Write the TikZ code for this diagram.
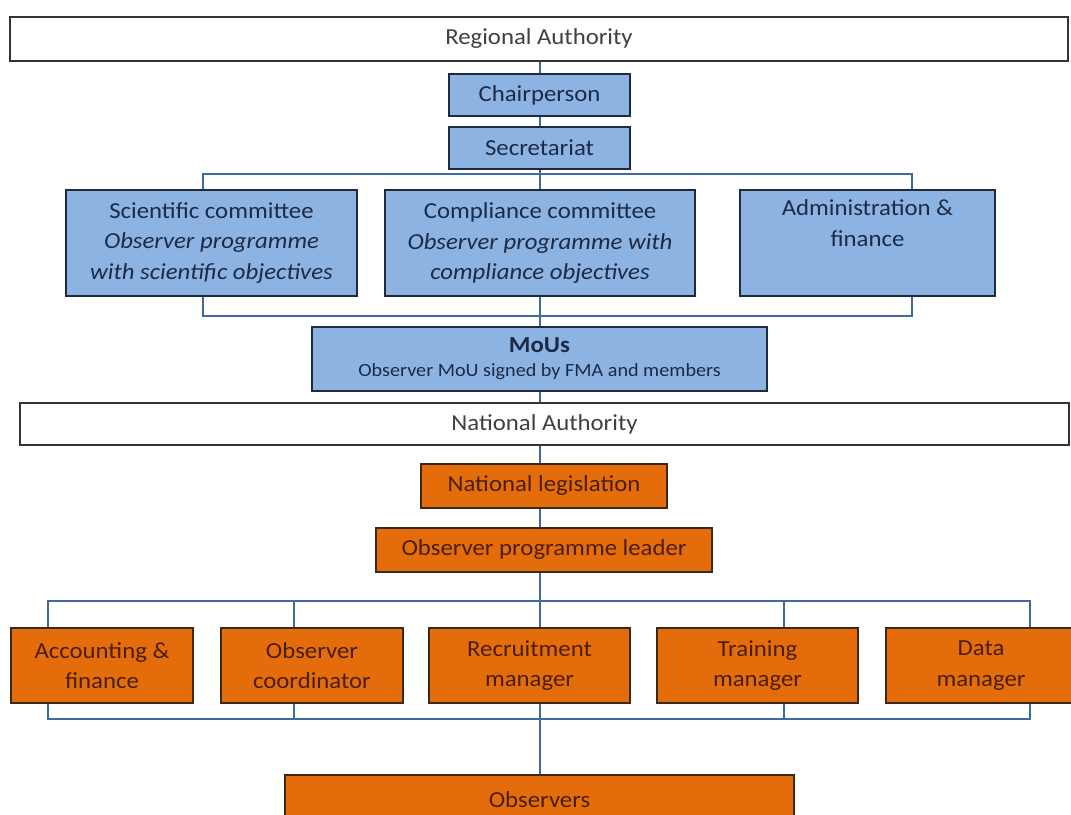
\documentclass[tikz,border=0pt]{standalone}
\usepackage{fontspec}
\setmainfont{Carlito}[FakeStretch=1.08]
\definecolor{boxblue}{HTML}{8DB3E2}
\definecolor{boxorange}{HTML}{E46C0A}
\definecolor{inkblue}{HTML}{1B2A47}
\definecolor{inkbrown}{HTML}{4A1E00}
\definecolor{edgeblue}{HTML}{1F2A3C}
\definecolor{edgebrown}{HTML}{3D2814}
\definecolor{linkblue}{HTML}{3F6A9E}
\tikzset{
  dims/.style 2 args={minimum width=#1*0.75pt, minimum height=#2*0.75pt},
  basebox/.style={draw, line width=1.2pt, inner sep=2pt, align=center,
    font=\fontsize{17.2}{23}\selectfont},
  wbox/.style={basebox, fill=white, draw=black!80, text=black!75},
  bbox/.style={basebox, fill=boxblue, draw=edgeblue, text=inkblue},
  obox/.style={basebox, fill=boxorange, draw=edgebrown, text=inkbrown},
  link/.style={draw=linkblue, line width=1.3pt}
}
\begin{document}
\begin{tikzpicture}[x=0.75pt,y=-0.75pt]
\useasboundingbox (0,0) rectangle (1071,814);
\clip (0,0) rectangle (1071,814);

% shared vertical axis and bus end points
\coordinate (axis) at (540,0);
\coordinate (ctl) at (203,174);
\coordinate (ctr) at (912,174);
\coordinate (cbl) at (203,316);
\coordinate (cbr) at (912,316);
\coordinate (stl) at (48,601);
\coordinate (str) at (1030,601);
\coordinate (sbl) at (48,719);
\coordinate (sbr) at (1030,719);
\coordinate (s2) at (294,0);
\coordinate (s4) at (784,0);

% regional level
\node[wbox, dims={1058}{44}] (reg) at (539,39) {Regional Authority};
\node[bbox, dims={181}{42}] (chair) at (539.5,95) {Chairperson};
\node[bbox, dims={181}{42}] (sec) at (539.5,148) {Secretariat};
\node[bbox, dims={291}{106}] (sci) at (211.5,243)
  {Scientific committee\\\textit{Observer programme}\\\textit{with scientific objectives}};
\node[bbox, dims={310}{106}] (comp) at (540,243)
  {Compliance committee\\\textit{Observer programme with}\\\textit{compliance objectives}};
\node[bbox, dims={255}{106}] (admin) at (867.5,243)
  {Administration \&\\finance\\\strut};
\node[bbox, dims={455}{64}, font=\fontsize{17.2}{18}\selectfont] (mou) at (539.5,359)
  {\textbf{MoUs}\\{\fontsize{14}{17}\selectfont Observer MoU signed by FMA and members}};

% national level
\node[wbox, dims={1049}{42}] (nat) at (544.5,424) {National Authority};
\node[obox, dims={246}{44}] (leg) at (544,486) {National legislation};
\node[obox, dims={336}{44}] (opl) at (544,550) {Observer programme leader};
\node[obox, dims={182}{75}] (acc) at (102,665.5) {Accounting \&\\finance};
\node[obox, dims={182}{75}] (ocoord) at (312,665.5) {Observer\\coordinator};
\node[obox, dims={201}{75}] (rec) at (529.5,665.5) {Recruitment\\manager};
\node[obox, dims={201}{75}] (train) at (757.5,665.5) {Training\\manager};
\node[obox, dims={190}{75}] (data) at (981,665.5) {Data\\manager};
\node[obox, dims={509}{50}] (obs) at (539.5,800) {Observers};

% connectors
\draw[link] (reg.south -| axis) -- (chair.north -| axis);
\draw[link] (chair.south -| axis) -- (sec.north -| axis);
\draw[link] (sec.south -| axis) -- (comp.north -| axis);
\draw[link] (ctl |- sci.north) -- (ctl) -- (ctr) -- (ctr |- admin.north);
\draw[link] (cbl |- sci.south) -- (cbl) -- (cbr) -- (cbr |- admin.south);
\draw[link] (comp.south -| axis) -- (mou.north -| axis);
\draw[link] (mou.south -| axis) -- (nat.north -| axis);
\draw[link] (nat.south -| axis) -- (leg.north -| axis);
\draw[link] (leg.south -| axis) -- (opl.north -| axis);
\draw[link] (opl.south -| axis) -- (rec.north -| axis);
\draw[link] (stl |- acc.north) -- (stl) -- (str) -- (str |- data.north);
\draw[link] (s2 |- stl) -- (s2 |- ocoord.north);
\draw[link] (s4 |- stl) -- (s4 |- train.north);
\draw[link] (sbl |- acc.south) -- (sbl) -- (sbr) -- (sbr |- data.south);
\draw[link] (s2 |- sbl) -- (s2 |- ocoord.south);
\draw[link] (s4 |- sbl) -- (s4 |- train.south);
\draw[link] (rec.south -| axis) -- (obs.north -| axis);
\end{tikzpicture}
\end{document}
